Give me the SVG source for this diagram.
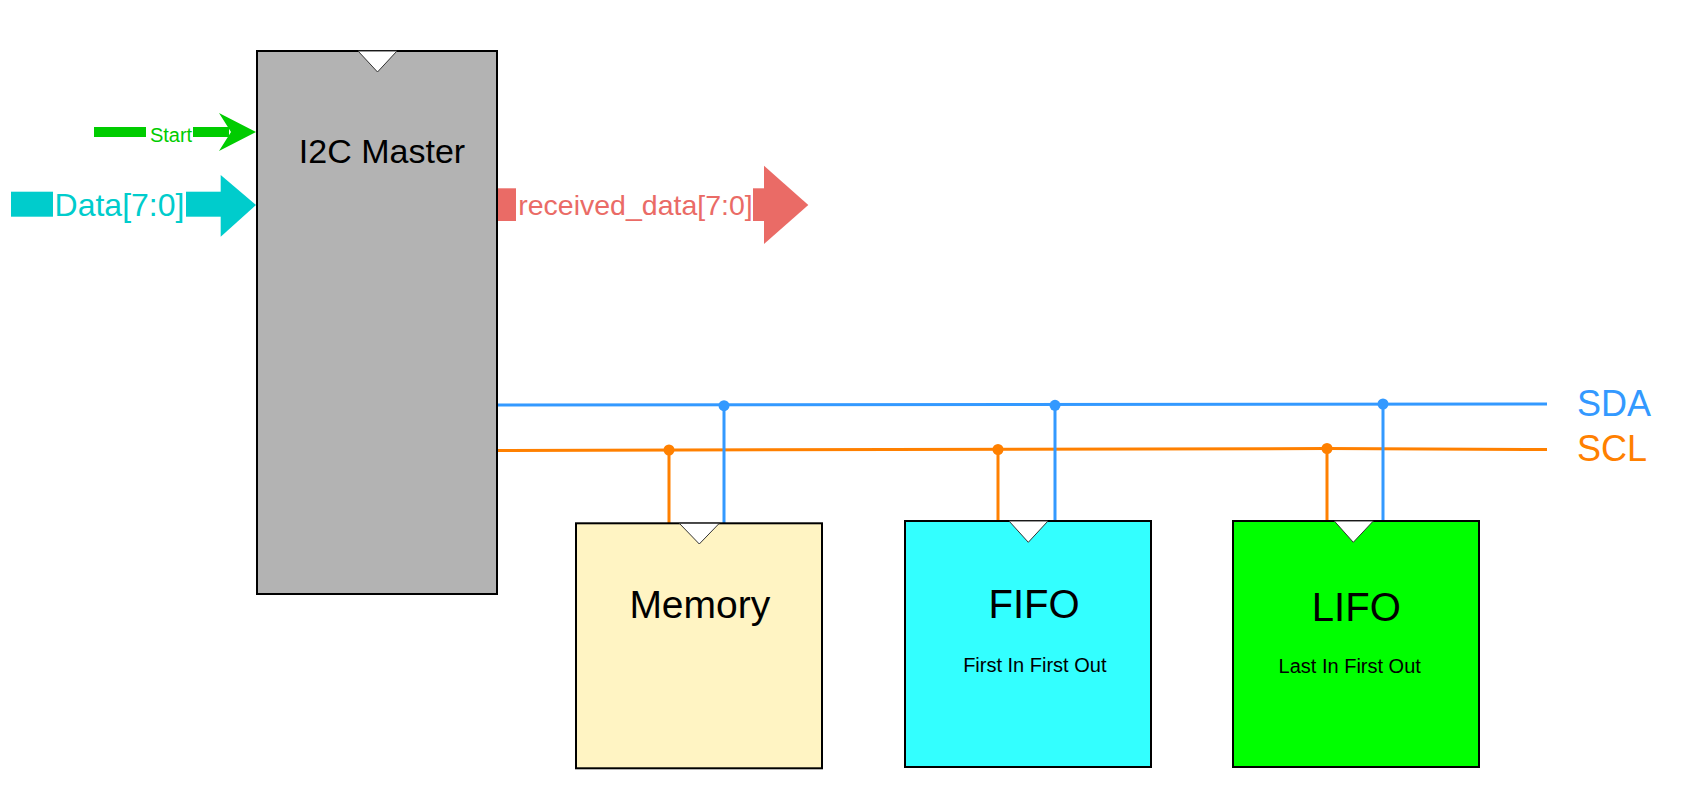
<svg xmlns="http://www.w3.org/2000/svg" width="1694" height="811" viewBox="0 0 1694 811">
<style>
text{font-family:"Liberation Sans",Arial,Helvetica,sans-serif}
.box{stroke:#000;stroke-width:2}
.tri{fill:#fff;stroke:#333;stroke-width:1}
.lbl{fill:#000;text-anchor:middle}
.sda{stroke:#3399FF;stroke-width:3;fill:none}
.scl{stroke:#FF8000;stroke-width:3;fill:none}
.dsda{fill:#3399FF}
.dscl{fill:#FF8000}
</style>
<rect width="1694" height="811" fill="#fff"/>

<g id="connectors">
  <g id="start-arrow" fill="#00CC00">
    <rect x="94" y="127" width="52" height="10"/>
    <rect x="193" y="127" width="36" height="10"/>
    <polygon points="219,113 256,132 219,151 231,132"/>
    <text x="171" y="141.7" font-size="20" text-anchor="middle" fill="#00CC00">Start</text>
  </g>
  <g id="data-arrow" fill="#00CCCC">
    <rect x="11" y="191.7" width="42" height="25"/>
    <rect x="186" y="191.7" width="35" height="25"/>
    <polygon points="220.7,175 256,205 220.7,236.7"/>
    <text x="119.5" y="215.7" font-size="32" text-anchor="middle" fill="#00CCCC">Data[7:0]</text>
  </g>
  <g id="received-arrow" fill="#EA6B66">
    <rect x="497" y="188.3" width="19" height="32.7"/>
    <rect x="753" y="188.3" width="12" height="32.7"/>
    <polygon points="764,165.7 808.3,205 764,244"/>
    <text x="635.5" y="215" font-size="28.5" text-anchor="middle" fill="#EA6B66">received_data[7:0]</text>
  </g>
  <g id="bus">
    <path class="sda" d="M497 405 L1547 404"/>
    <path class="scl" d="M497 450.5 L1327 448.5 L1547 449.5"/>
    <path class="sda" d="M724 405.7 V523 M1055 405.3 V521 M1383 404 V521"/>
    <path class="scl" d="M669 450 V523 M998 449.5 V521 M1327 448.5 V521"/>
    <circle class="dsda" cx="724" cy="405.7" r="5.5"/>
    <circle class="dsda" cx="1055" cy="405.3" r="5.5"/>
    <circle class="dsda" cx="1383" cy="404" r="5.5"/>
    <circle class="dscl" cx="669" cy="450" r="5.5"/>
    <circle class="dscl" cx="998" cy="449.5" r="5.5"/>
    <circle class="dscl" cx="1327" cy="448.5" r="5.5"/>
    <text x="1577" y="416" font-size="36" fill="#3399FF">SDA</text>
    <text x="1577" y="461" font-size="36" fill="#FF8000">SCL</text>
  </g>
</g>

<g id="i2c-master">
  <rect class="box" x="257" y="51" width="240" height="543" fill="#B3B3B3"/>
  <polygon class="tri" points="358,51 397,51 377.5,72"/>
  <text class="lbl" x="382" y="163.3" font-size="34">I2C Master</text>
</g>

<g id="memory">
  <rect class="box" x="576" y="523.3" width="246" height="245" fill="#FFF4C3"/>
  <polygon class="tri" points="679.3,523.3 719.3,523.3 699.3,544"/>
  <text class="lbl" x="699.8" y="617.7" font-size="39">Memory</text>
</g>

<g id="fifo">
  <rect class="box" x="905" y="521" width="246" height="246" fill="#33FFFF"/>
  <polygon class="tri" points="1009,521 1048,521 1028.3,542.3"/>
  <text class="lbl" x="1034" y="618.3" font-size="40">FIFO</text>
  <text class="lbl" x="1034.8" y="672.3" font-size="20">First In First Out</text>
</g>

<g id="lifo">
  <rect class="box" x="1233" y="521" width="246" height="246" fill="#00FF00"/>
  <polygon class="tri" points="1334.3,521 1373.3,521 1353.3,542.3"/>
  <text class="lbl" x="1356.3" y="620.7" font-size="40">LIFO</text>
  <text class="lbl" x="1349.7" y="672.7" font-size="20">Last In First Out</text>
</g>
</svg>
